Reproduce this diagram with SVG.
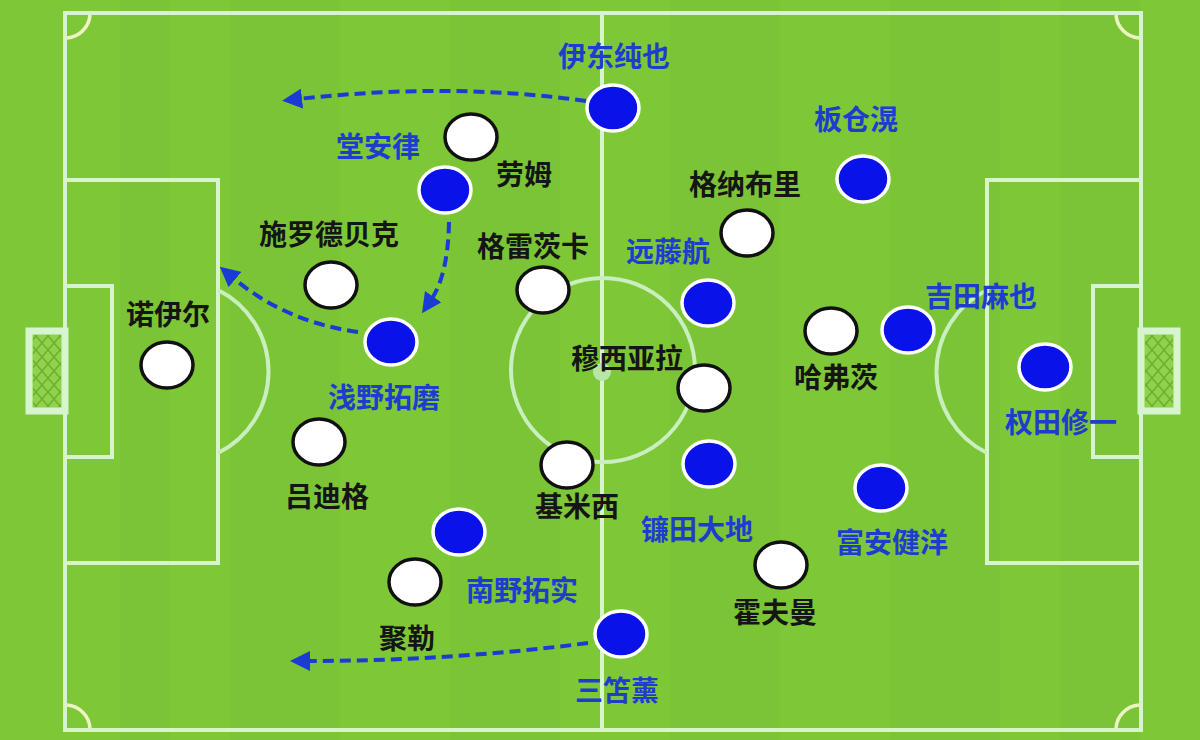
<svg xmlns="http://www.w3.org/2000/svg" width="1200" height="740" viewBox="0 0 1200 740">
<defs>
<style>
.line{fill:none;stroke:#d6f5cf;stroke-width:4}
.arc{fill:none;stroke:#c9eebf;stroke-width:4}
.corner{fill:none;stroke:#eef3c4;stroke-width:3.5}
.w{fill:#ffffff;stroke:#111111;stroke-width:3.5}
.b{fill:#0a12ea;stroke:#ffffff;stroke-width:3.5}
.tw{font-family:"Noto Sans CJK SC","Noto Sans",sans-serif;font-size:28px;font-weight:700;fill:#151515;text-anchor:middle}
.tb{font-family:"Noto Sans CJK SC","Noto Sans",sans-serif;font-size:28px;font-weight:700;fill:#1e3ccd;text-anchor:middle}
.dash{fill:none;stroke:#1a3bd4;stroke-width:4;stroke-dasharray:11 6}
.stripe{fill:#000000;opacity:0.02}
</style>
<pattern id="net" width="12" height="14" patternUnits="userSpaceOnUse">
<path d="M0 0 L12 14 M12 0 L0 14" stroke="#6fb02f" stroke-width="1.6" fill="none"/>
</pattern>
<marker id="ah" viewBox="0 0 10 10" refX="2" refY="5" markerWidth="5" markerHeight="5" orient="auto-start-reverse" markerUnits="strokeWidth">
<path d="M0 0 L10 5 L0 10 Z" fill="#1a3bd4"/>
</marker>
</defs>
<rect x="0" y="0" width="1200" height="740" fill="#7ec837"/>
<g id="stripes">
<rect class="stripe" x="120" y="0" width="50" height="740"/>
<rect class="stripe" x="230" y="0" width="110" height="740"/>
<rect class="stripe" x="450" y="0" width="110" height="740"/>
<rect class="stripe" x="670" y="0" width="110" height="740"/>
<rect class="stripe" x="890" y="0" width="110" height="740"/>
<rect class="stripe" x="1060" y="0" width="80" height="740"/>
</g>
<g id="pitch">
<rect class="line" x="65" y="13" width="1076" height="717"/>
<line class="line" x1="602" y1="13" x2="602" y2="730"/>
<circle class="arc" cx="603" cy="370" r="92"/>
<circle cx="602" cy="372" r="9" fill="#b8e6a6"/>
<rect class="line" x="65" y="180" width="153" height="383"/>
<rect class="line" x="65" y="286" width="47" height="171"/>
<path class="arc" d="M218 290 A91 91 0 0 1 218 453"/>
<rect class="line" x="987" y="180" width="154" height="383"/>
<rect class="line" x="1093" y="286" width="48" height="171"/>
<path class="arc" d="M987 290 A91 91 0 0 0 987 453"/>
<path class="corner" d="M90 15 A25 25 0 0 1 67 38"/>
<path class="corner" d="M67 705 A25 25 0 0 1 90 728"/>
<path class="corner" d="M1116 15 A25 25 0 0 0 1139 38"/>
<path class="corner" d="M1139 705 A25 25 0 0 0 1116 728"/>
</g>
<g id="goal-left">
<rect x="29" y="331" width="36" height="80" fill="#8fd24b" stroke="#d6f5cf" stroke-width="7"/>
<rect x="33" y="335" width="28" height="72" fill="url(#net)"/>
</g>
<g id="goal-right">
<rect x="1141" y="331" width="36" height="80" fill="#8fd24b" stroke="#d6f5cf" stroke-width="7"/>
<rect x="1145" y="335" width="28" height="72" fill="url(#net)"/>
</g>
<g id="connectors">
<path class="dash" d="M586 101 Q450 82 298 99" marker-end="url(#ah)"/>
<path class="dash" d="M449 222 Q448 275 431 300" marker-end="url(#ah)"/>
<path class="dash" d="M358 332 Q285 322 232 277" marker-end="url(#ah)"/>
<path class="dash" d="M588 643 Q450 661 306 661" marker-end="url(#ah)"/>
</g>
<g id="ito"><ellipse class="b" cx="613" cy="108" rx="26" ry="23"/><text class="tb" x="614" y="67">伊东纯也</text></g>
<g id="itakura"><ellipse class="b" cx="863" cy="179" rx="26" ry="23"/><text class="tb" x="856" y="130">板仓滉</text></g>
<g id="endo"><ellipse class="b" cx="708" cy="303" rx="26" ry="23"/><text class="tb" x="668" y="262">远藤航</text></g>
<g id="yoshida"><ellipse class="b" cx="908" cy="330" rx="26" ry="23"/><text class="tb" x="981" y="307">吉田麻也</text></g>
<g id="gonda"><ellipse class="b" cx="1045" cy="367" rx="26" ry="23"/><text class="tb" x="1061" y="433">权田修一</text></g>
<g id="kamada"><ellipse class="b" cx="709" cy="464" rx="26" ry="23"/><text class="tb" x="697" y="540">镰田大地</text></g>
<g id="tomiyasu"><ellipse class="b" cx="881" cy="488" rx="26" ry="23"/><text class="tb" x="892" y="553">富安健洋</text></g>
<g id="mitoma"><ellipse class="b" cx="621" cy="634" rx="26" ry="23"/><text class="tb" x="617" y="701">三笘薰</text></g>
<g id="minamino"><ellipse class="b" cx="459" cy="532" rx="26" ry="23"/><text class="tb" x="522" y="601">南野拓实</text></g>
<g id="asano"><ellipse class="b" cx="391" cy="342" rx="26" ry="23"/><text class="tb" x="384" y="408">浅野拓磨</text></g>
<g id="doan"><ellipse class="b" cx="445" cy="190" rx="26" ry="23"/><text class="tb" x="378" y="157">堂安律</text></g>
<g id="raum"><ellipse class="w" cx="471" cy="137" rx="26" ry="23"/><text class="tw" x="524" y="185">劳姆</text></g>
<g id="gnabry"><ellipse class="w" cx="747" cy="233" rx="26" ry="23"/><text class="tw" x="745" y="195">格纳布里</text></g>
<g id="schlotterbeck"><ellipse class="w" cx="331" cy="285" rx="26" ry="23"/><text class="tw" x="329" y="245">施罗德贝克</text></g>
<g id="goretzka"><ellipse class="w" cx="543" cy="290" rx="26" ry="23"/><text class="tw" x="533" y="257">格雷茨卡</text></g>
<g id="neuer"><ellipse class="w" cx="167" cy="365" rx="26" ry="23"/><text class="tw" x="168" y="325">诺伊尔</text></g>
<g id="musiala"><ellipse class="w" cx="704" cy="388" rx="26" ry="23"/><text class="tw" x="627" y="369">穆西亚拉</text></g>
<g id="havertz"><ellipse class="w" cx="831" cy="331" rx="26" ry="23"/><text class="tw" x="836" y="388">哈弗茨</text></g>
<g id="rudiger"><ellipse class="w" cx="319" cy="442" rx="26" ry="23"/><text class="tw" x="327" y="507">吕迪格</text></g>
<g id="kimmich"><ellipse class="w" cx="567" cy="465" rx="26" ry="23"/><text class="tw" x="577" y="517">基米西</text></g>
<g id="hofmann"><ellipse class="w" cx="781" cy="565" rx="26" ry="23"/><text class="tw" x="775" y="623">霍夫曼</text></g>
<g id="sule"><ellipse class="w" cx="415" cy="582" rx="26" ry="23"/><text class="tw" x="407" y="649">聚勒</text></g>
</svg>
